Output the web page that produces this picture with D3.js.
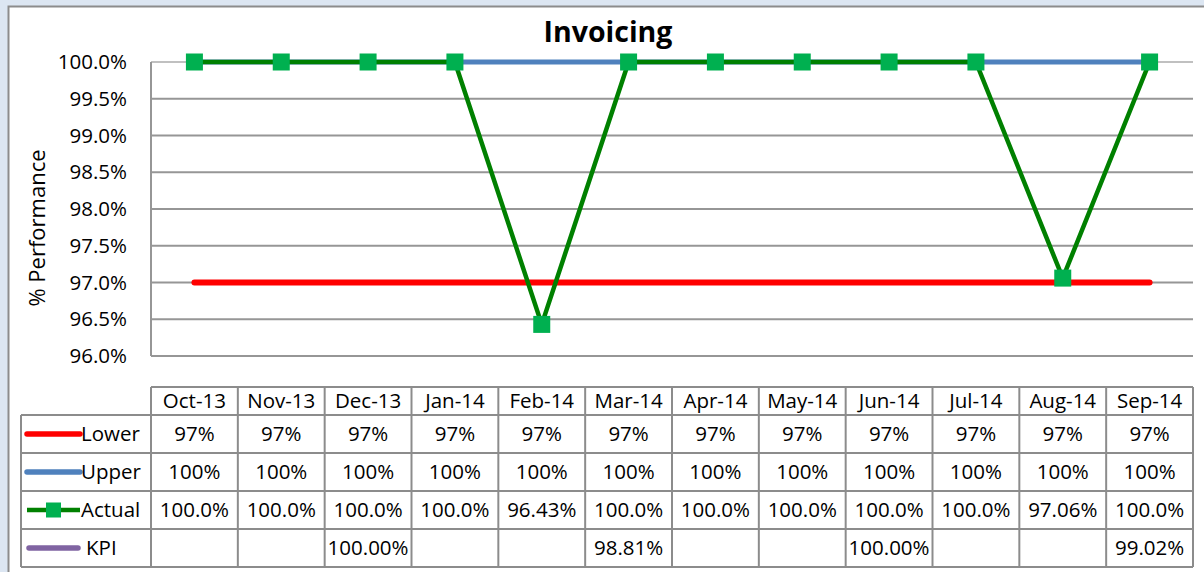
<!DOCTYPE html>
<html>
<head>
<meta charset="utf-8">
<script src="https://cdn.jsdelivr.net/npm/d3@7"></script>
<style>
  body { margin: 0; background: #fff; }
  svg { display: block; font-family: "Open Sans", sans-serif; }
</style>
</head>
<body>
<div id="chart"></div>
<script>
var months = ["Oct-13", "Nov-13", "Dec-13", "Jan-14", "Feb-14", "Mar-14", "Apr-14", "May-14", "Jun-14", "Jul-14", "Aug-14", "Sep-14"];
var lower = [97, 97, 97, 97, 97, 97, 97, 97, 97, 97, 97, 97];
var upper = [100, 100, 100, 100, 100, 100, 100, 100, 100, 100, 100, 100];
var actual = [100, 100, 100, 100, 96.43, 100, 100, 100, 100, 100, 97.06, 100];
var kpi = [null, null, 100, null, null, 98.81, null, null, 100, null, null, 99.02];
var yTicks = [96, 96.5, 97, 97.5, 98, 98.5, 99, 99.5, 100];

var W = 1204, H = 572;
var plot = { left: 151, right: 1193, top: 62, bottom: 356 };
var cellFont = "20.5px";

var svg = d3.select("#chart").append("svg")
    .attr("width", W)
    .attr("height", H);

// outer frame like the spreadsheet chart border
svg.append("rect").attr("x", 0).attr("y", 0).attr("width", W).attr("height", H).attr("fill", "#dce6f2");
svg.append("rect").attr("x", 8).attr("y", 6).attr("width", W).attr("height", H).attr("fill", "#fff");
svg.append("path").attr("d", "M8.5," + H + "V6.5H" + W).attr("fill", "none").attr("stroke", "#8c8c8c").attr("stroke-width", 2);

var x = d3.scaleBand()
    .domain(months)
    .range([plot.left, plot.right]);

var y = d3.scaleLinear()
    .domain([96, 100])
    .range([plot.bottom, plot.top]);

function cx(m) { return x(m) + x.bandwidth() / 2; }

// gridlines
svg.append("g").selectAll("line")
    .data(yTicks)
    .enter().append("line")
    .attr("x1", plot.left).attr("x2", plot.right)
    .attr("y1", function (d) { return y(d); })
    .attr("y2", function (d) { return y(d); })
    .attr("stroke", function (d) { return d === 100 ? "#c0c0c0" : "#969696"; })
    .attr("stroke-width", 2);

// left axis line
svg.append("line")
    .attr("x1", plot.left).attr("x2", plot.left)
    .attr("y1", plot.top).attr("y2", plot.bottom)
    .attr("stroke", "#969696").attr("stroke-width", 2);

var yAxis = d3.axisLeft(y)
    .tickValues(yTicks)
    .tickSize(0)
    .tickPadding(24)
    .tickFormat(function (d) { return d3.format(".1f")(d) + "%"; });

var gy = svg.append("g")
    .attr("transform", "translate(" + plot.left + ",0)")
    .call(yAxis);
gy.select(".domain").remove();
gy.selectAll("text")
    .style("font-family", "Open Sans")
    .style("font-size", "20.5px")
    .attr("fill", "#000");

// titles
svg.append("text")
    .attr("x", 608).attr("y", 42)
    .attr("text-anchor", "middle")
    .style("font-size", "28.5px").style("font-weight", "bold")
    .text("Invoicing");

svg.append("text")
    .attr("transform", "translate(45,228) rotate(-90)")
    .attr("text-anchor", "middle")
    .style("font-size", "22px")
    .text("% Performance");

// series lines
var line = d3.line()
    .x(function (d, i) { return cx(months[i]); })
    .y(function (d) { return y(d); });

svg.append("path").datum(lower)
    .attr("d", line).attr("fill", "none")
    .attr("stroke", "#ff0000").attr("stroke-width", 6).attr("stroke-linecap", "round");

svg.append("path").datum(upper)
    .attr("d", line).attr("fill", "none")
    .attr("stroke", "#4f81bd").attr("stroke-width", 5).attr("stroke-linecap", "round");

svg.append("path").datum(actual)
    .attr("d", line).attr("fill", "none")
    .attr("stroke", "#008000").attr("stroke-width", 4.5);

var ms = 17;
svg.append("g").selectAll("rect")
    .data(actual)
    .enter().append("rect")
    .attr("x", function (d, i) { return cx(months[i]) - ms / 2; })
    .attr("y", function (d) { return y(d) - ms / 2; })
    .attr("width", ms).attr("height", ms)
    .attr("fill", "#00b050");

// data table
var table = { left: 21, top: 387, header: 28, row: 38 };
var rows = [
    { name: "Lower", color: "#ff0000", values: lower, fmt: function (v) { return v + "%"; } },
    { name: "Upper", color: "#4f81bd", values: upper, fmt: function (v) { return v + "%"; } },
    { name: "Actual", color: "#008000", values: actual, fmt: function (v) { return v === 100 ? "100.0%" : v.toFixed(2) + "%"; } },
    { name: "KPI", color: "#8064a2", values: kpi, fmt: function (v) { return v === null ? "" : v.toFixed(2) + "%"; } }
];

var tb = svg.append("g");
var gridColor = "#8c8c8c";
var bodyTop = table.top + table.header;
var tableBottom = bodyTop + rows.length * table.row;

// horizontal table lines
tb.append("line")
    .attr("x1", plot.left).attr("x2", plot.right)
    .attr("y1", table.top).attr("y2", table.top)
    .attr("stroke", gridColor).attr("stroke-width", 2);
d3.range(rows.length + 1).forEach(function (i) {
    var yy = bodyTop + i * table.row;
    tb.append("line")
        .attr("x1", table.left).attr("x2", plot.right)
        .attr("y1", yy).attr("y2", yy)
        .attr("stroke", gridColor).attr("stroke-width", 2);
});

// vertical table lines
tb.append("line")
    .attr("x1", table.left).attr("x2", table.left)
    .attr("y1", bodyTop).attr("y2", tableBottom)
    .attr("stroke", gridColor).attr("stroke-width", 2);
months.forEach(function (m) {
    tb.append("line")
        .attr("x1", x(m)).attr("x2", x(m))
        .attr("y1", table.top).attr("y2", tableBottom)
        .attr("stroke", gridColor).attr("stroke-width", 2);
});
tb.append("line")
    .attr("x1", plot.right).attr("x2", plot.right)
    .attr("y1", table.top).attr("y2", tableBottom)
    .attr("stroke", gridColor).attr("stroke-width", 2);

// header labels
tb.selectAll(".hdr")
    .data(months)
    .enter().append("text")
    .attr("class", "hdr")
    .attr("x", function (d) { return cx(d); })
    .attr("y", table.top + table.header / 2)
    .attr("dy", "0.36em")
    .attr("text-anchor", "middle")
    .style("font-size", cellFont)
    .text(function (d) { return d; });

// rows
rows.forEach(function (r, ri) {
    var yc = bodyTop + ri * table.row + table.row / 2;
    var kx1 = r.name === "KPI" ? 29 : 27, kx2 = r.name === "KPI" ? 78 : 80;
    tb.append("line")
        .attr("x1", kx1).attr("x2", kx2)
        .attr("y1", yc).attr("y2", yc)
        .attr("stroke", r.color).attr("stroke-width", r.name === "Actual" ? 4.5 : 5.5)
        .attr("stroke-linecap", r.name === "Actual" ? "butt" : "round");
    if (r.name === "Actual") {
        tb.append("rect")
            .attr("x", 46).attr("y", yc - 7.5)
            .attr("width", 15).attr("height", 15)
            .attr("fill", "#00b050");
    }
    tb.append("text")
        .attr("x", r.name === "KPI" ? 86 : 81)
        .attr("y", yc)
        .attr("dy", "0.36em")
        .style("font-size", cellFont)
        .text(r.name);

    tb.selectAll(".v" + ri)
        .data(r.values)
        .enter().append("text")
        .attr("x", function (d, i) { return cx(months[i]); })
        .attr("y", yc)
        .attr("dy", "0.36em")
        .attr("text-anchor", "middle")
        .style("font-size", cellFont)
        .text(function (d) { return r.fmt(d); });
});
</script>
</body>
</html>
